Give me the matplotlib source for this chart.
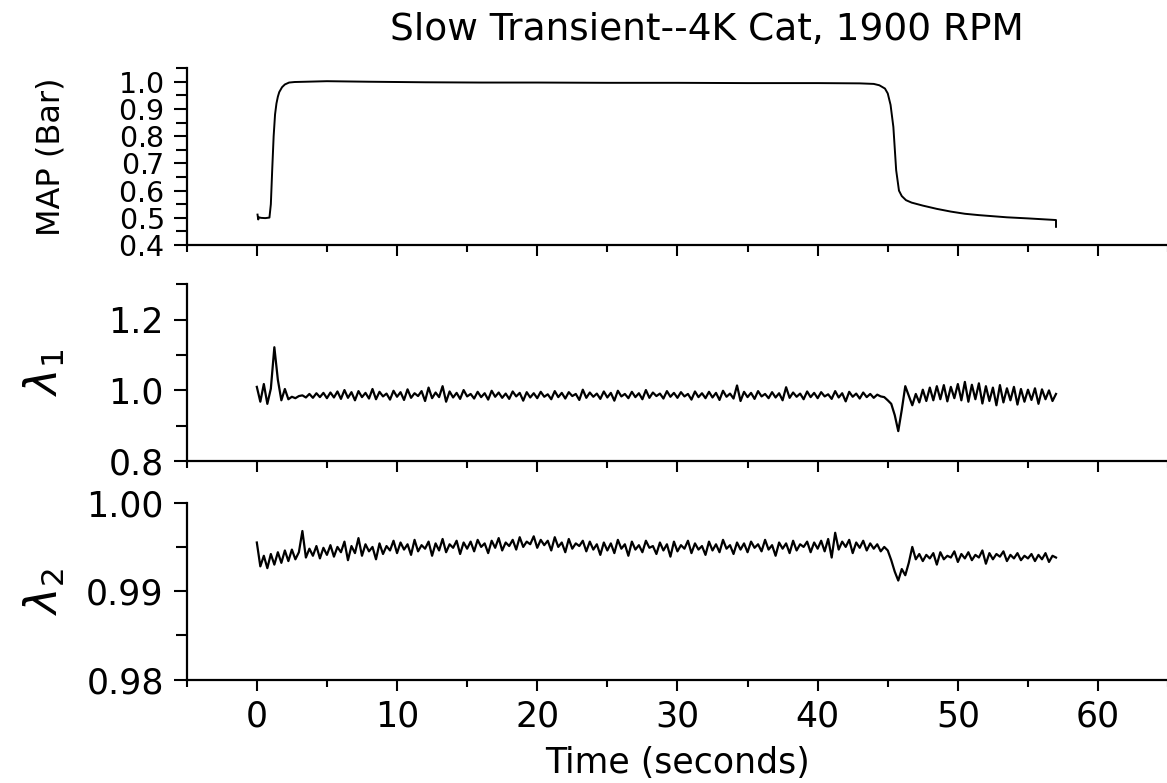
import numpy as np
import matplotlib.pyplot as plt
from matplotlib.ticker import MultipleLocator, FormatStrFormatter

plt.rcParams['font.family'] = ['DejaVu Sans']
plt.rcParams['mathtext.fontset'] = 'dejavusans'

# MAP trace (seconds, bar)
map_t = [0.05, 0.1, 0.15, 0.3, 0.6, 0.9, 1.0, 1.1, 1.2, 1.3, 1.4, 1.5, 1.6, 1.8, 2.0,
         2.3, 2.7, 3.5, 5, 8, 12, 16, 20, 25, 30, 35, 40, 43, 44, 44.4, 44.8, 45.0,
         45.2, 45.4, 45.6, 45.8, 46.0, 46.3, 46.7, 47.5, 48.5, 49.5, 50.5, 51.5, 52.5,
         53.5, 55, 56, 57, 57.0]
map_v = [0.512, 0.494, 0.502, 0.500, 0.499, 0.501, 0.55, 0.68, 0.80, 0.88, 0.92, 0.945,
         0.962, 0.980, 0.990, 0.997, 0.999, 1.000, 1.002, 1.000, 0.998, 0.997, 0.997,
         0.996, 0.996, 0.995, 0.995, 0.994, 0.992, 0.987, 0.975, 0.957, 0.915, 0.834,
         0.675, 0.600, 0.580, 0.565, 0.556, 0.545, 0.533, 0.523, 0.515, 0.510, 0.506,
         0.502, 0.498, 0.495, 0.492, 0.467]

# lambda traces, one sample every 0.25 s from 0 to 57 s
lam_t = np.linspace(0, 57, 229)
lam1 = [
    1.010, 0.968, 1.018, 0.962, 1.005, 1.122, 1.030, 0.972, 1.004, 0.975, 0.982, 0.978, 0.984, 0.986, 0.980, 0.990, 0.979, 0.992, 0.981, 0.993,
    0.978, 0.994, 0.980, 0.997, 0.976, 1.001, 0.979, 0.995, 0.972, 0.998, 0.981, 0.993, 0.977, 1.004, 0.975, 0.996, 0.983, 0.991, 0.974, 0.999,
    0.982, 0.995, 0.973, 1.003, 0.979, 0.992, 0.984, 0.998, 0.970, 1.008, 0.978, 0.994, 0.981, 1.012, 0.968, 0.997, 0.980, 0.993, 0.976, 1.001,
    0.983, 0.990, 0.977, 0.996, 0.981, 0.992, 0.974, 0.999, 0.982, 0.994, 0.979, 0.991, 0.976, 0.997, 0.983, 0.993, 0.971, 0.995, 0.980, 0.992,
    0.978, 0.996, 0.982, 0.989, 0.975, 0.998, 0.981, 0.993, 0.977, 0.995, 0.984, 0.990, 0.973, 1.002, 0.979, 0.994, 0.982, 0.991, 0.976, 0.997,
    0.980, 0.993, 0.971, 0.999, 0.983, 0.990, 0.978, 0.996, 0.981, 0.992, 0.975, 1.001, 0.979, 0.994, 0.984, 0.991, 0.977, 0.998, 0.982, 0.993,
    0.979, 0.995, 0.983, 0.990, 0.974, 0.997, 0.981, 0.992, 0.978, 0.996, 0.980, 0.993, 0.973, 0.999, 0.982, 0.991, 0.977, 1.014, 0.970, 0.996,
    0.981, 0.993, 0.976, 0.998, 0.983, 0.990, 0.978, 0.995, 0.980, 0.992, 0.972, 1.009, 0.979, 0.994, 0.982, 0.991, 0.975, 0.997, 0.981, 0.993,
    0.978, 0.995, 0.983, 0.989, 0.976, 0.998, 0.980, 0.992, 0.969, 0.996, 0.982, 0.991, 0.977, 0.994, 0.981, 0.990, 0.979, 0.988, 0.983, 0.981,
    0.972, 0.962, 0.930, 0.885, 0.945, 1.012, 0.985, 0.958, 0.990, 0.966, 1.002, 0.970, 1.008, 0.972, 1.012, 0.975, 1.015, 0.969, 1.010, 0.978,
    1.018, 0.972, 1.024, 0.968, 1.016, 0.975, 1.020, 0.963, 1.012, 0.970, 1.008, 0.958, 1.015, 0.966, 1.006, 0.972, 1.010, 0.960, 1.004, 0.968,
    1.002, 0.973, 1.006, 0.962, 1.003, 0.975, 1.000, 0.970, 0.990,
]
lam2 = [
    0.9955, 0.9928, 0.9940, 0.9926, 0.9942, 0.9930, 0.9944, 0.9932, 0.9946, 0.9934, 0.9947, 0.9936, 0.9944, 0.9968, 0.9938, 0.9948, 0.9940, 0.9951, 0.9937, 0.9949,
    0.9941, 0.9952, 0.9939, 0.9950, 0.9944, 0.9956, 0.9935, 0.9951, 0.9943, 0.9960, 0.9940, 0.9953, 0.9945, 0.9950, 0.9936, 0.9954, 0.9942, 0.9951, 0.9946, 0.9957,
    0.9943, 0.9955, 0.9947, 0.9953, 0.9941, 0.9958, 0.9945, 0.9952, 0.9948, 0.9956, 0.9940, 0.9954, 0.9946, 0.9959, 0.9944, 0.9953, 0.9949, 0.9957, 0.9942, 0.9955,
    0.9948, 0.9956, 0.9945, 0.9958, 0.9950, 0.9954, 0.9943, 0.9957, 0.9949, 0.9960, 0.9946, 0.9955, 0.9951, 0.9958, 0.9947, 0.9961, 0.9950, 0.9956, 0.9953, 0.9962,
    0.9949, 0.9958, 0.9952, 0.9957, 0.9946, 0.9961, 0.9950, 0.9955, 0.9944, 0.9959, 0.9948, 0.9954, 0.9951, 0.9957, 0.9945, 0.9956, 0.9947, 0.9953, 0.9941, 0.9955,
    0.9946, 0.9954, 0.9943, 0.9958, 0.9948, 0.9953, 0.9940, 0.9956, 0.9947, 0.9952, 0.9944, 0.9957, 0.9949, 0.9951, 0.9942, 0.9955, 0.9946, 0.9953, 0.9939, 0.9956,
    0.9945, 0.9952, 0.9948, 0.9957, 0.9943, 0.9954, 0.9947, 0.9951, 0.9941, 0.9956, 0.9946, 0.9953, 0.9944, 0.9958, 0.9948, 0.9952, 0.9942, 0.9955, 0.9947, 0.9954,
    0.9944, 0.9956, 0.9949, 0.9953, 0.9945, 0.9958, 0.9947, 0.9952, 0.9940, 0.9955, 0.9948, 0.9954, 0.9943, 0.9957, 0.9946, 0.9953, 0.9950, 0.9956, 0.9944, 0.9955,
    0.9948, 0.9957, 0.9945, 0.9959, 0.9938, 0.9966, 0.9947, 0.9956, 0.9950, 0.9958, 0.9943, 0.9955, 0.9949, 0.9957, 0.9946, 0.9954, 0.9948, 0.9953, 0.9945, 0.9950,
    0.9946, 0.9935, 0.9922, 0.9912, 0.9925, 0.9918, 0.9932, 0.9950, 0.9936, 0.9942, 0.9934, 0.9941, 0.9937, 0.9943, 0.9930, 0.9944, 0.9936, 0.9940, 0.9938, 0.9945,
    0.9933, 0.9942, 0.9937, 0.9944, 0.9935, 0.9941, 0.9938, 0.9946, 0.9931, 0.9943, 0.9936, 0.9942, 0.9939, 0.9945, 0.9934, 0.9941, 0.9937, 0.9943, 0.9935, 0.9940,
    0.9937, 0.9942, 0.9934, 0.9941, 0.9936, 0.9943, 0.9933, 0.9940, 0.9938,
]

fig = plt.figure(figsize=(11.67, 7.83), dpi=100)
ax1 = fig.add_axes([0.160, 0.687, 0.841, 0.226])
ax2 = fig.add_axes([0.160, 0.411, 0.841, 0.226])
ax3 = fig.add_axes([0.160, 0.132, 0.841, 0.226])

ax1.plot(map_t, map_v, color='black', lw=1.4)
ax2.plot(lam_t, lam1, color='black', lw=1.6)
ax3.plot(lam_t, lam2, color='black', lw=1.6)

# the MAP labels sit almost on top of each other in the original, mathtext keeps their boxes tight
ax1.set_ylim(0.4, 1.05)
ax1.yaxis.set_major_locator(MultipleLocator(0.1))
ax1.yaxis.set_minor_locator(MultipleLocator(0.05))
ax1.yaxis.set_major_formatter(FormatStrFormatter(r'$%.1f$'))

ax2.set_ylim(0.8, 1.3)
ax2.yaxis.set_major_locator(MultipleLocator(0.2))
ax2.yaxis.set_minor_locator(MultipleLocator(0.1))
ax2.yaxis.set_major_formatter(FormatStrFormatter('%.1f'))

ax3.set_ylim(0.98, 1.00)
ax3.yaxis.set_major_locator(MultipleLocator(0.01))
ax3.yaxis.set_minor_locator(MultipleLocator(0.005))
ax3.yaxis.set_major_formatter(FormatStrFormatter('%.2f'))

for ax in (ax1, ax2, ax3):
    ax.set_xlim(-5, 65)
    ax.xaxis.set_major_locator(MultipleLocator(10))
    ax.xaxis.set_minor_locator(MultipleLocator(5))
    ax.spines['top'].set_visible(False)
    ax.spines['right'].set_visible(False)
    ax.spines['left'].set_linewidth(1.6)
    ax.spines['bottom'].set_linewidth(1.6)
    ax.tick_params(which='major', direction='out', length=8, width=1.5, labelsize=25, pad=6)
    ax.tick_params(which='minor', direction='out', length=5, width=1.5)
    ax.tick_params(axis='y', which='major', length=9.5, pad=7)
    ax.tick_params(axis='y', which='minor', length=8)
    ax.yaxis.set_label_coords(-0.122, 0.5)

ax1.tick_params(labelbottom=False)
ax2.tick_params(labelbottom=False)
ax1.tick_params(axis='y', which='major', labelsize=20.5)

ax1.set_ylabel('MAP (Bar)', fontsize=23)
ax2.set_ylabel(r'$\lambda_1$', fontsize=32)
ax3.set_ylabel(r'$\lambda_2$', fontsize=32)
ax3.set_xlabel('Time (seconds)', fontsize=25, labelpad=9)

fig.text(0.606, 0.962, 'Slow Transient--4K Cat, 1900 RPM', fontsize=27, ha='center', va='center')

fig.savefig('out.png', dpi=100)
